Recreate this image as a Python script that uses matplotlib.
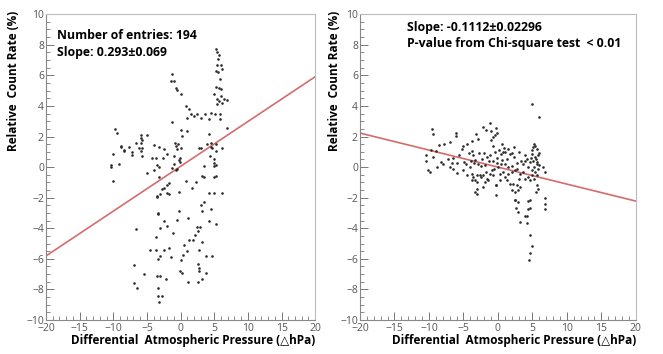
import numpy as np
import matplotlib
matplotlib.use("Agg")
import matplotlib.pyplot as plt
from matplotlib.ticker import MultipleLocator

plt.rcParams['font.family'] = ['Open Sans', 'DejaVu Sans']

# left panel: all events
left_dp = [-1.34, -1.5, -1.0, -0.74, -0.5, 0.0, 0.74, 1.24, 1.5, 1.0, 2.0, 2.5, 3.0, 3.56, 4.2, 4.46, 5.1, -1.24,
           5.2, 5.45, 5.7, 5.5, 6.0, 5.35, 6.2, 5.25, 5.5, 5.9, 5.2, 5.7, 4.95, 5.94, 5.94, 5.45, 5.7, 6.4, 6.9, 6.1,
           5.35, 5.84, 5.84,
           -9.7, -9.4, -5.85, -5.9, -5.7, -4.95, 0.0, 0.9, 4.2, 6.9, -6.7, -5.95, -7.7, -8.9, -8.4, -7.2, -6.2, -5.7,
           -5.95, -10.0, -7.2, -5.7, -3.96, -3.2, -2.4, -2.0, -3.7, -4.2, -2.6, -0.9, -0.74, -0.35, -0.5, 0.0, -1.0,
           -0.15, -0.25, -0.1, -3.5, -3.2, -3.96, -4.95, -1.25, -0.74, -0.5, -1.0, 2.7, 3.86, 4.46, 5.2, 6.2, 4.3,
           4.95, 5.2, 3.5, 3.2, 5.2, -10.4, -10.4, -9.2, 0.25, 4.46, 4.7, 5.2, 4.95, 3.0, 4.95, -8.9, -8.4,
           -10.1, -2.7, -3.5, -2.0, -1.7, -2.0, -0.25, 1.7, 3.5, 3.0, 4.2, 5.0, 6.2, 3.2, 4.5, -3.3, -3.3, -0.25,
           -2.5, -0.5, 1.1, 4.2, 5.3, -2.0, -3.0, -6.7, 2.5, 2.9, 2.6, 2.2, -1.2, -3.7, 1.9, 1.2, 3.2, 0.5, -4.5,
           -3.7, -2.5, -1.7, 1.0, 2.7, 0.4, -3.0, -3.3, -1.5, 3.7, 4.6, 0.0, -6.9, 2.6, 2.7, -0.15, 0.25, 2.7, 3.8,
           -5.4, -3.5, -3.0, -2.1, -6.9, 1.1, 2.6, 3.2, -6.5, -3.4, -3.4, -2.8, -3.2,
           -3.2, 3.5, 5.0, -3.0, -3.5, -1.7, -2.5, 2.3, 0.8]
left_rate = [6.07, 5.63, 5.63, 5.2, 5.04, 4.76, 4.0, 3.78, 3.45, 3.23, 3.34, 3.45, 3.19, 3.45, 3.12, 3.56, 3.45, 2.95,
             7.75, 7.53, 7.3, 7.05, 6.7, 6.66, 6.4, 6.3, 6.22, 5.74, 5.26, 5.2, 4.76, 5.1, 4.65, 4.43, 4.32, 4.43,
             4.39, 4.17, 4.1, 3.45, 3.12,
             2.47, 2.25, 2.1, 1.93, 1.77, 2.1, 2.4, 2.36, 2.19, 2.58, 1.6, 1.6, 1.32, 1.32, 1.1, 1.0, 1.27, 1.23,
             1.05, 0.83, 0.79, 0.73, 1.45, 1.32, 1.16, 0.83, 0.62, 0.62, 0.62, 1.6, 1.38, 1.49, 1.16, 1.27, 0.73,
             0.57, 0.44, 0.33, 0.11, 0.0, -0.21, -0.37, -0.04, -0.21, -0.15, 0.22, 1.23, 1.49, 1.32, 1.53, 1.27,
             0.73, 0.29, 0.14, 0.07, -0.58, -0.58, 0.14, 0.0, 0.22, 2.03, 1.6, 1.27, 1.05, 0.5, 1.27, 0.07, 1.38, 1.05,
             -0.89, -1.43, -1.93, -1.7, -1.75, -1.2, -1.6, -1.35, -2.3, -2.5, -1.7, -1.7, -1.7, -2.9, -2.75, -3.0,
             -3.1, -2.85, -3.5, -3.45, -3.35, -3.5, -3.7, -3.85, -4.0, -4.05, -3.9, -3.95, -4.2, -4.45, -4.3, -4.6,
             -4.75, -4.8, -4.9, -5.1, -5.4, -5.4, -5.4, -5.3, -5.5, -5.4, -5.75, -5.8, -6.0, -5.85, -5.8, -5.8,
             -6.1, -6.4, -6.35, -6.6, -6.8, -6.9, -6.8, -6.9, -7.0, -7.1, -7.1, -7.3, -7.55, -7.5, -7.5, -7.3, -7.9,
             -7.9, -8.4, -8.4, -8.85,
             -0.65, -0.65, -0.62, -1.78, -1.89, -1.05, -1.35, -1.0, -0.9]

# right panel: selected events
right_dp = [4.9, 6.0, -9.6, -9.4, -6.05, -6.15, -1.16, -2.2, -1.7, -1.06, -0.29, -0.43, -0.1, -0.77, -1.0, -3.2,
            -2.9, -3.8, 0.53, 0.9, 0.2, -0.68, -8.55, -7.8, -6.9, -9.75, -9.0, -10.4, -10.4, -9.4, -8.3, -7.2,
            -6.5, -6.7, -5.7, -5.26, -5.0, -4.5, -4.25, -3.7, -3.6, -3.3, -3.95, -4.9, -5.9,
            5.2, 5.4, 5.0, 5.6, 4.9, 5.36, 5.85, 5.1, 5.7, 4.6, 5.9, 3.9, 4.2, 3.3, 2.7, 2.3, 1.74, 1.26, 0.4,
            -0.1, -0.68, -1.16, -1.55, -0.43, 0.77, -2.35, -2.85, -1.9,
            1.5, 2.0, 3.0, 2.4, 3.6, 4.4, 1.0, -0.2, 0.6,
            -10.2, -7.0, -6.5, -5.0, -4.1, -3.8, -3.6, -3.3, -3.1, -2.6, -2.4, -2.1, -1.64, -1.16, -0.9, -1.4, -1.9,
            -3.1, -3.7, -3.1, -3.3, -3.1, -2.1, -0.3, -0.3, 0.29, 0.77, 1.0, 1.5, 2.0, 2.46, 2.7, 3.2, 3.7, 3.9,
            4.4, 4.6, 4.9, 5.36, 5.85, 6.6, 0.29, 1.26, 1.74, 2.2, 2.7, 3.2, 2.0, 2.46, 2.95, 5.6, 5.85, 5.5, 6.8,
            2.46, 2.95, 4.4, 2.6, 2.95, 4.4, 3.9, 3.2, 4.15, 6.85, 6.8, 6.9, 4.6, 5.0, 4.7, 4.5,
            2.5, 4.7, 4.7, 4.2, -0.24,
            5.2, 5.5, 5.0, 5.7, 5.3, 5.9, 5.1, 5.6, 4.8,
            -4.6, -3.5, -2.8, -2.0, -1.3, -0.5, 0.0, 0.5, 1.5, -2.5, -1.8, -0.7, 3.0, 4.0, 2.0, 1.0, -4.5, -6.0,
            -8.0, -9.8, -8.8]
right_rate = [4.1, 3.27, 2.51, 2.14, 2.23, 2.05, 2.88, 2.62, 2.44, 2.36, 2.58, 2.07, 2.23, 1.96, 1.75, 2.14,
              1.81, 1.7, 1.53, 1.27, 1.09, 1.35, 1.42, 1.53, 1.64, 1.13, 1.05, 0.76, 0.43, 0.65, 0.33, 0.5,
              0.61, 0.26, 0.76, 1.2, 1.35, 1.48, 0.94, 1.05, 0.76, 0.48, 0.39, 0.33, 0.26,
              1.53, 1.37, 1.09, 1.16, 0.87, 0.65, 0.76, 0.43, 0.33, 0.33, 0.11, 0.8, 0.54, 0.43, 0.26, 0.65, 0.87,
              0.54, 0.83, 0.61, 0.39, 0.76, 0.65, 0.98, 0.98, 0.54, 0.17, 0.11,
              1.2, 0.95, 1.0, 1.3, 0.2, 0.0, 0.2, 0.3, 0.45,
              -0.22, 0.0, -0.15, -0.22, 0.0, -0.44, -0.65, -0.87, -0.54, -0.5, -0.65, -0.54, -0.76, -0.44, -0.22,
              -0.87, -0.98, -0.98, -0.87, -1.42, -1.64, -1.75, -1.31, -1.2, -1.85, -0.44, -0.33, -0.65, -0.44,
              -0.33, -0.22, -0.11, -0.44, -0.33, -0.76, -0.65, -0.87, -0.54, -0.33, -0.11, 0.0, -0.87, -0.87,
              -1.09, -1.09, -1.2, -1.31, -1.53, -1.64, -1.53, -1.2, -1.42, -1.6, -0.33,
              -2.18, -2.29, -2.25, -2.68, -2.95, -2.73, -3.17, -3.56, -3.65, -2.04, -2.4, -2.75, -4.47, -5.13,
              -5.6, -6.1,
              -2.15, -2.15, -2.7, -3.2, -1.17,
              0.0, 0.5, -0.2, -0.5, -0.8, 0.9, 1.3, 0.2, 0.6,
              0.2, 0.3, 0.9, 0.9, 0.4, -0.1, 0.0, 0.2, 0.0, 0.1, -0.3, -0.5, -0.8, 0.4, 0.1, 1.0, -0.5, -0.4,
              0.2, -0.35, 0.0]

# fit results
left_slope, left_icpt = 0.293, 0.05
right_slope, right_icpt = -0.1112, 0.0
n_entries = 194

fig = plt.figure(figsize=(6.63, 3.54), dpi=100)
ax1 = fig.add_axes([0.0694, 0.096, 0.406, 0.864])
ax2 = fig.add_axes([0.543, 0.096, 0.416, 0.864])

fit_x = np.array([-20, 20])
for ax, xs, ys, slope, icpt in [(ax1, left_dp, left_rate, left_slope, left_icpt),
                                 (ax2, right_dp, right_rate, right_slope, right_icpt)]:
    ax.scatter(xs, ys, s=3.5, color='#2a2a2a', linewidths=0, zorder=3)
    ax.plot(fit_x, slope * fit_x + icpt, color='#d66b6b', lw=1.2, zorder=2)
    ax.set_xlim(-20, 20)
    ax.set_ylim(-10, 10)
    ax.xaxis.set_major_locator(MultipleLocator(5))
    ax.xaxis.set_minor_locator(MultipleLocator(1))
    ax.yaxis.set_major_locator(MultipleLocator(2))
    ax.yaxis.set_minor_locator(MultipleLocator(0.5))
    ax.tick_params(which='both', direction='in', colors='#777777', labelcolor='#555555',
                   labelsize=7.5, top=False, right=False, pad=1.5)
    ax.tick_params(axis='x', pad=2.5)
    ax.tick_params(which='major', length=6, width=0.7)
    ax.tick_params(which='minor', length=3, width=0.6)
    for side in ['left', 'bottom']:
        ax.spines[side].set_color('#888888')
        ax.spines[side].set_linewidth(0.8)
    for side in ['top', 'right']:
        ax.spines[side].set_color('#bbbbbb')
        ax.spines[side].set_linewidth(0.8)
    ax.set_xlabel('Differential  Atmospheric Pressure (\u25b3hPa)', fontsize=8.5,
                  fontweight='bold', loc='right', labelpad=0)
    ax.set_ylabel('Relative  Count Rate (%)', fontsize=8.5, fontweight='bold', loc='top', labelpad=2)

ax1.yaxis.set_label_coords(-0.095, 1.01)
ax2.yaxis.set_label_coords(-0.07, 1.01)

ax1.text(0.04, 0.93, f'Number of entries: {n_entries}', transform=ax1.transAxes,
         fontsize=8.8, fontweight='bold', va='center')
ax1.text(0.04, 0.875, 'Slope: 0.293\u00b10.069', transform=ax1.transAxes,
         fontsize=8.8, fontweight='bold', va='center')
ax2.text(0.17, 0.955, 'Slope: -0.1112\u00b10.02296', transform=ax2.transAxes,
         fontsize=8.8, fontweight='bold', va='center')
ax2.text(0.17, 0.905, 'P-value from Chi-square test  < 0.01', transform=ax2.transAxes,
         fontsize=8.8, fontweight='bold', va='center')

fig.savefig('out.png', dpi=100)
